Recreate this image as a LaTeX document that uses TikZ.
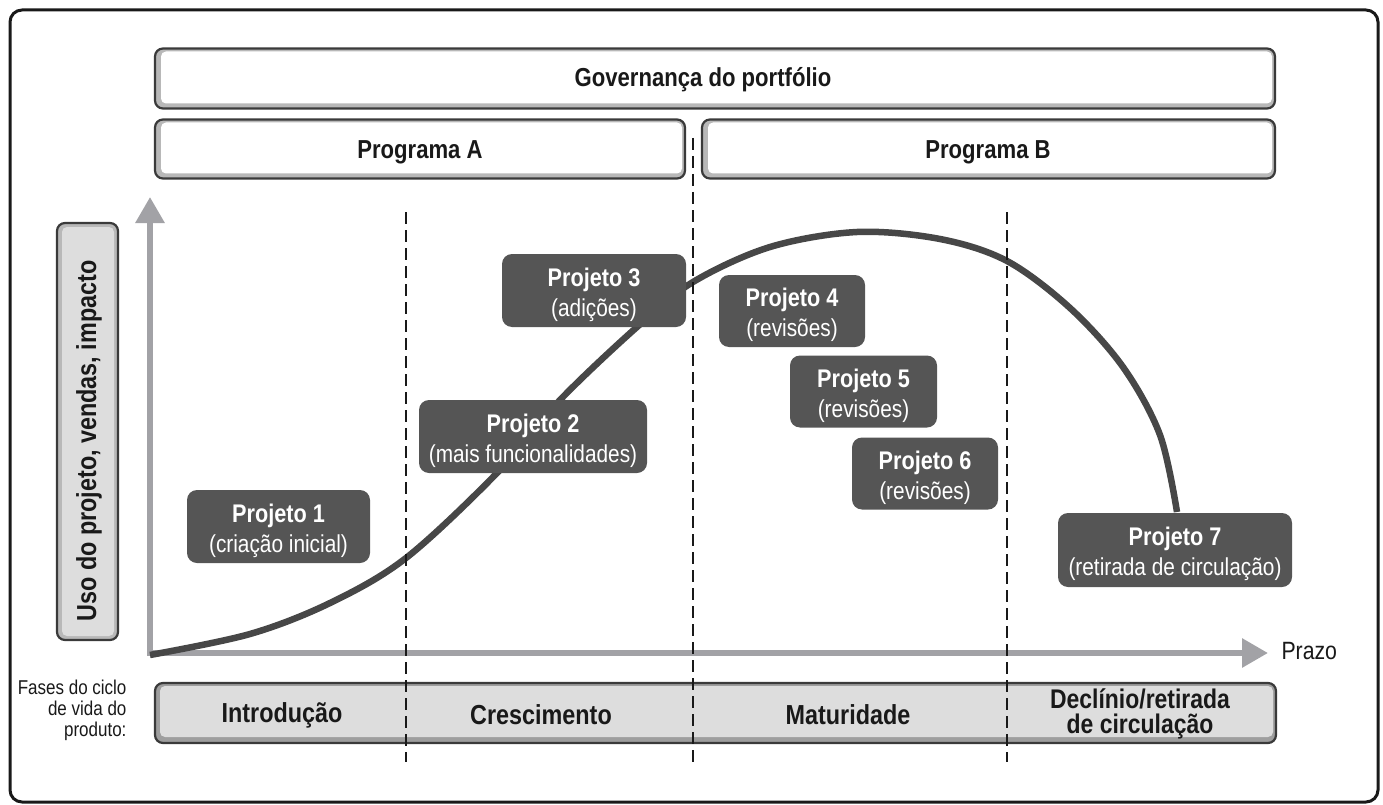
\documentclass[tikz,border=0pt]{standalone}
\usepackage{fontspec}
\setmainfont{Liberation Sans}[FakeStretch=0.85]
\usetikzlibrary{arrows.meta}
\definecolor{boxborder}{HTML}{3A3A3A}
\definecolor{bandgray}{HTML}{B8B8B8}
\definecolor{phasefill}{HTML}{DDDDDD}
\definecolor{phaseband}{HTML}{9E9E9E}
\definecolor{projgray}{HTML}{555555}
\definecolor{curvegray}{HTML}{474747}
\definecolor{axisgray}{HTML}{A2A2A6}
\tikzset{
  lightbox/.style={draw=boxborder, line width=2.2pt, rounded corners=8pt, fill=bandgray,
    inner sep=0pt,
    path picture={\fill[white, rounded corners=5pt]
      ([shift={(6pt,5pt)}]path picture bounding box.south west) rectangle
      ([shift={(-3pt,-3pt)}]path picture bounding box.north east);}},
  boxtext/.style={font=\fontsize{26}{28}\selectfont\bfseries, text=black!90},
  phasebox/.style={draw=boxborder, line width=2.2pt, rounded corners=8pt, fill=phaseband,
    inner sep=0pt,
    path picture={\fill[phasefill, rounded corners=5pt]
      ([shift={(5pt,6pt)}]path picture bounding box.south west) rectangle
      ([shift={(-3pt,-3pt)}]path picture bounding box.north east);}},
  ylabbox/.style={draw=boxborder, line width=2.2pt, rounded corners=8pt, fill=bandgray,
    inner sep=0pt,
    path picture={\fill[phasefill, rounded corners=5pt]
      ([shift={(5pt,4pt)}]path picture bounding box.south west) rectangle
      ([shift={(-4pt,-4pt)}]path picture bounding box.north east);}},
  projbox/.style={fill=projgray, rounded corners=10pt, text=white, align=center,
    inner sep=0pt, font=\fontsize{24.5}{30}\selectfont},
  phasetext/.style={font=\fontsize{27.5}{27}\selectfont\bfseries, text=black!90, align=center},
  divline/.style={black!90, line width=2.6pt, dash pattern=on 12pt off 6pt},
  axis/.style={axisgray, line width=6pt, -{Triangle[length=26pt,width=28pt]}},
}
\newcommand{\projtitle}[1]{{\fontsize{25.5}{30}\selectfont\bfseries\rule{0pt}{27pt}#1}}
\begin{document}
\begin{tikzpicture}[x=1pt,y=-1pt]
\useasboundingbox (0,0) rectangle (1383,805);
% outer frame
\draw[black!90, line width=3pt, rounded corners=12pt] (10,10) rectangle (1378,802);

% top boxes
\node[lightbox, minimum width=1120pt, minimum height=60pt] (gov) at (715,78.5) {};
\node[boxtext] (govt) at (703,80) {Governança do portfólio};
\node[lightbox, minimum width=530pt, minimum height=59pt] (pa) at (420,149) {};
\node[boxtext] (pat) at (420,152) {Programa A};
\node[lightbox, minimum width=573pt, minimum height=59pt] (pb) at (988.5,149) {};
\node[boxtext] (pbt) at (988,152) {Programa B};

% y label box
\node[ylabbox, minimum width=61pt, minimum height=417pt] (ylab) at (87.5,431.5) {};
\node[rotate=90, font=\fontsize{27.5}{28}\selectfont\bfseries, text=black!90] (ylabt) at (89,441) {Uso do projeto, vendas, impacto};

% axes
\coordinate (O) at (150,656);
\coordinate (ytip) at (150,197);
\coordinate (xs) at (147,653);
\coordinate (xtip) at (1268,653);
\draw[axis] (O) -- (ytip);
\draw[axis] (xs) -- (xtip);
\node[font=\fontsize{25}{28}\selectfont, text=black!90, anchor=west] (prazo) at (1278,651) {Prazo};

% curve
\draw[curvegray, line width=6.5pt] plot[smooth, tension=0.55] coordinates {
 (150,655) (250,634) (330,603) (406,558) (497,473) (560,400) (637,327) (693,282)
 (770,247) (857,232) (940,239) (1007,261) (1070,308) (1123,367) (1160,435) (1177,512)};

% project boxes
\node[projbox, minimum width=183pt, minimum height=73pt] (p1) at (278.5,526.5) {\projtitle{Projeto 1}\\(criação inicial)};
\node[projbox, minimum width=228pt, minimum height=73pt] (p2) at (533,436.5) {\projtitle{Projeto 2}\\(mais funcionalidades)};
\node[projbox, minimum width=184pt, minimum height=73pt] (p3) at (594,290.5) {\projtitle{Projeto 3}\\(adições)};
\node[projbox, minimum width=146pt, minimum height=72pt] (p4) at (792,311) {\projtitle{Projeto 4}\\(revisões)};
\node[projbox, minimum width=147pt, minimum height=72pt] (p5) at (863.5,391.5) {\projtitle{Projeto 5}\\(revisões)};
\node[projbox, minimum width=146pt, minimum height=72pt] (p6) at (925,473.5) {\projtitle{Projeto 6}\\(revisões)};
\node[projbox, minimum width=234pt, minimum height=74pt] (p7) at (1175,550) {\projtitle{Projeto 7}\\(retirada de circulação)};

% phase bar
\node[phasebox, minimum width=1121pt, minimum height=60pt] (bar) at (715.5,713) {};
\node[phasetext] (ph1) at (282,715) {Introdução};
\node[phasetext] (ph2) at (541,715) {Crescimento};
\node[phasetext] (ph3) at (848,715) {Maturidade};
\node[phasetext, font=\fontsize{27}{25}\selectfont\bfseries] (ph4) at (1140,714) {Declínio/retirada\\de circulação};
\node[font=\fontsize{20}{21}\selectfont, text=black!90, align=right, anchor=east] (fases) at (130,710) {Fases do ciclo\\de vida do\\produto:};

% dividers
\coordinate (d1t) at (406,212); \coordinate (d1b) at (406,762);
\coordinate (d2t) at (693,138); \coordinate (d2b) at (693,762);
\coordinate (d3t) at (1007,212); \coordinate (d3b) at (1007,762);
\draw[divline] (d1t) -- (d1b);
\draw[divline] (d2t) -- (d2b);
\draw[divline] (d3t) -- (d3b);
\end{tikzpicture}
\end{document}
